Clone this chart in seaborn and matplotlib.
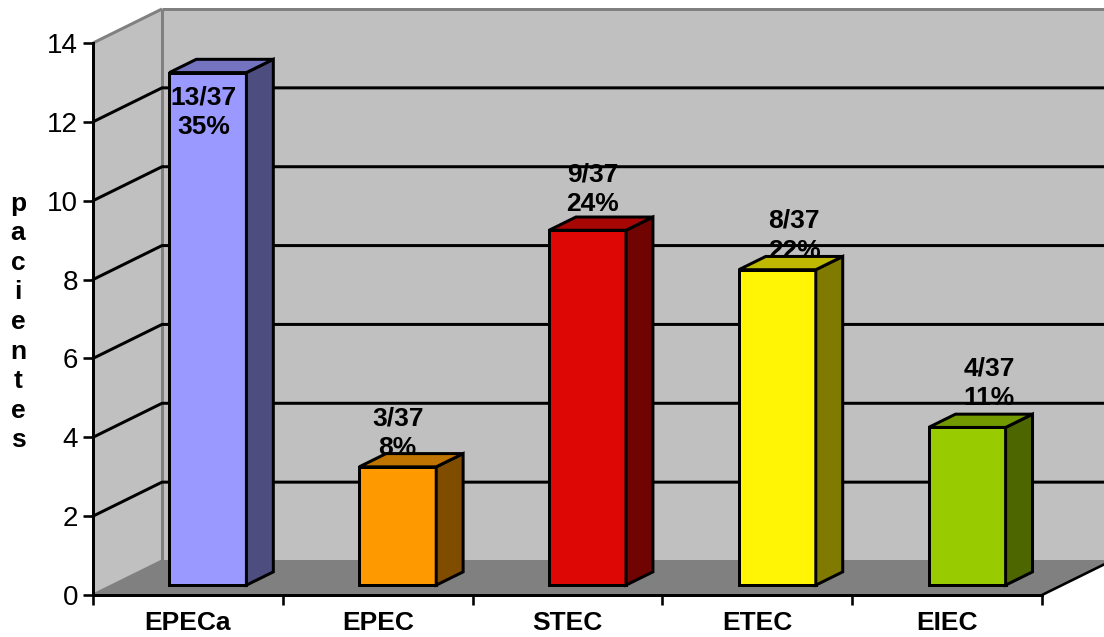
import matplotlib
matplotlib.use("Agg")
import matplotlib.pyplot as plt
from matplotlib.patches import Polygon
from matplotlib.ticker import MultipleLocator
import pandas as pd
import seaborn as sns

# Data
grupos = ["EPECa", "EPEC", "STEC", "ETEC", "EIEC"]
pacientes = [13, 3, 9, 8, 4]
etiquetas = ["13/37\n35%", "3/37\n8%", "9/37\n24%", "8/37\n22%", "4/37\n11%"]

# Per-series face colours: front, side, top
frente = ["#9999FF", "#FF9900", "#DD0806", "#FFF505", "#99CC00"]
lateral = ["#4D4D80", "#804D00", "#6F0403", "#807B00", "#4D6600"]
tapa = ["#7373BF", "#BF7300", "#A60604", "#BFB800", "#739900"]

# Placement of each value label relative to its bar top centre, in pixels
etiqueta_dx = [-4, 0, 5, 17, 22]
etiqueta_dy = [-40, 34, 41, 34, 44]

DPI = 100
W, H = 1104, 637
LEFT, BOTTOM, RIGHT, TOP = 93, 595, 1042, 43
PX = 1 / DPI * 72  # one pixel in points
FS = 19

sns.set_theme(style="white")
plt.rcParams["font.family"] = ["Liberation Sans", "DejaVu Sans"]

fig = plt.figure(figsize=(W / DPI, H / DPI), dpi=DPI, facecolor="white")
ax = fig.add_axes([LEFT / W, 1 - BOTTOM / H, (RIGHT - LEFT) / W, (BOTTOM - TOP) / H])
ax.patch.set_visible(False)

df = pd.DataFrame({"grupo": grupos, "n": pacientes})
sns.barplot(
    data=df, x="grupo", y="n", hue="grupo", palette=frente, saturation=1, width=77 / 189.8,
    edgecolor="black", linewidth=3 * PX, legend=False, ax=ax, zorder=5,
)
barras = list(ax.patches)
ax.set_xlim(-0.5, 4.5)
ax.set_ylim(0, 14)

# Oblique projection: depth 0 is the axis plane, depth 1 is the back wall
SLOT = (RIGHT - LEFT) / 5
DX = 69 / SLOT
DY = 34 / ((BOTTOM - TOP) / 14)
def proj(x, v, d):
    return (x + d * DX, v + d * DY)

def cara(puntos, color, z, **kw):
    ax.add_patch(Polygon(puntos, closed=True, facecolor=color, clip_on=False, zorder=z, **kw))

x0, x1 = -0.5, 4.5
# Walls and floor
cara([proj(x0, 0, 1), proj(x1, 0, 1), proj(x1, 14, 1), proj(x0, 14, 1)], "#C0C0C0", 1, edgecolor="none")
cara([proj(x0, 0, 0), proj(x0, 0, 1), proj(x0, 14, 1), proj(x0, 14, 0)], "#C0C0C0", 1, edgecolor="none")
cara([proj(x0, 0, 0), proj(x1, 0, 0), proj(x1, 0, 1), proj(x0, 0, 1)], "#808080", 1.5, edgecolor="none")

# Grey outlines of the walls
borde = dict(color="#808080", lw=3 * PX, clip_on=False, zorder=2, solid_capstyle="butt")
for a, b in [
    (proj(x0, 14, 0), proj(x0, 14, 1)),
    (proj(x0, 14, 1), proj(x1, 14, 1)),
    (proj(x0, 14, 1), proj(x0, 0, 1)),
    (proj(x0, 0, 0), proj(x0, 0, 1)),
    (proj(x0, 0, 1), proj(x1, 0, 1)),
]:
    ax.plot([a[0], b[0]], [a[1], b[1]], **borde)
a, b = proj(x1, 0, 0), proj(x1, 0, 1)
ax.plot([a[0], b[0]], [a[1], b[1]], color="black", lw=2.6 * PX, clip_on=False, zorder=2)

# Gridlines across side wall and back wall
for v in range(2, 14, 2):
    p = [proj(x0, v, 0), proj(x0, v, 1), proj(x1, v, 1)]
    ax.plot(*zip(*p), color="black", lw=3 * PX, clip_on=False, zorder=2, solid_joinstyle="miter")

# Bars: front face from seaborn, moved to its depth, then side and top faces
D0, D1 = 0.29, 0.68
contorno = dict(edgecolor="black", linewidth=3 * PX, joinstyle="miter")
for i, bar in enumerate(barras):
    xa = bar.get_x()
    xb = xa + bar.get_width()
    v = bar.get_height()
    bar.set_x(xa + D0 * DX)
    bar.set_y(D0 * DY)
    bar.set_clip_on(False)
    cara([proj(xb, 0, D0), proj(xb, 0, D1), proj(xb, v, D1), proj(xb, v, D0)], lateral[i], 5, **contorno)
    cara([proj(xa, v, D0), proj(xb, v, D0), proj(xb, v, D1), proj(xa, v, D1)], tapa[i], 5, **contorno)
    # Value label; the tall first bar carries it on its face
    ax.annotate(
        etiquetas[i], xy=proj(i, v, D0),
        xytext=(etiqueta_dx[i] * PX, etiqueta_dy[i] * PX), textcoords="offset points",
        ha="center", va="center", fontsize=FS, fontweight="bold", color="black",
        linespacing=1.3, annotation_clip=False, zorder=6 if i == 0 else 4,
    )

# Axes, ticks and labels
sns.despine(ax=ax, top=True, right=True)
for s in ("left", "bottom"):
    ax.spines[s].set_linewidth(3 * PX)
    ax.spines[s].set_color("black")
    ax.spines[s].set_zorder(7)
ax.yaxis.set_major_locator(MultipleLocator(2))
ax.xaxis.set_minor_locator(MultipleLocator(1, offset=0.5))
ax.tick_params(axis="y", which="major", length=10 * PX, width=2.6 * PX, color="black",
               left=True, pad=5 * PX, labelsize=20, labelcolor="black")
ax.tick_params(axis="x", which="major", length=0, pad=16 * PX, labelsize=FS, labelcolor="black")
ax.tick_params(axis="x", which="minor", length=10 * PX, width=2.6 * PX, color="black", bottom=True)
for t in ax.get_xticklabels():
    t.set_fontweight("bold")

ax.set_xlabel("")
ax.set_ylabel("\n".join("pacientes"), rotation=0, fontsize=FS, fontweight="bold",
              color="black", linespacing=1.29, ha="center", va="center")
ax.yaxis.set_label_coords((18 - LEFT) / (RIGHT - LEFT), (BOTTOM - 322) / (BOTTOM - TOP))

fig.savefig("out.png", dpi=DPI, facecolor="white")
